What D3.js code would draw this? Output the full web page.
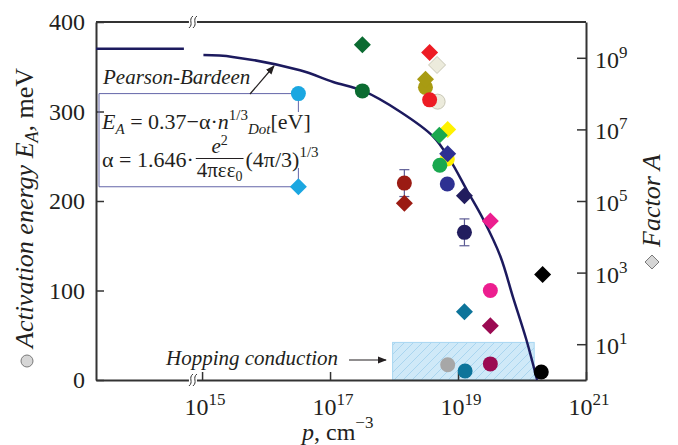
<!DOCTYPE html>
<html>
<head>
<meta charset="utf-8">
<script src="https://cdn.jsdelivr.net/npm/d3@7"></script>
<style>
  html, body { margin: 0; padding: 0; background: #fff; }
  svg { display: block; }
  svg text { font-family: "Liberation Serif", "Times New Roman", serif; }
</style>
</head>
<body>
<svg id="chart" width="678" height="445"></svg>
<script>
// ---- Samples: hole concentration p (cm^-3), activation energy E_A (meV), factor A ----
const sampleNames  = ["s1","s2","s3","s4","s5","s6","s7","s8","s9","s10","s11","s12","s13","s14","s15"];
const samplePCircle = [3.2e16, 3.2e17, 3.1e18, 3.6e18, 4.8e18, 6.8e18, 5.2e18, 6.8e18, 1.45e18, 1.26e19, 3.2e19, 1.29e19, 3.2e19, 2.0e20, 6.9e18];
const sampleE       = [320, 323, 327, 313, 311, 247, 240, 219, 220, 165, 100, 10, 18, 9, 17];
const sampleEErr    = [0, 0, 0, 0, 0, 0, 0, 0, 15, 15, 0, 0, 0, 0, 0];
const samplePDiamond = [3.2e16, 3.2e17, 3.1e18, 3.6e18, 4.7e18, 6.9e18, 5.1e18, 6.9e18, 1.45e18, 1.26e19, 3.2e19, 1.26e19, 3.2e19, 2.1e20, null];
const sampleA       = [2.5e5, 2.3e9, 2.5e8, 1.4e9, 6.3e8, 1.0e7, 6.9e6, 2.1e6, 8.7e4, 1.4e5, 2.75e4, 81, 33, 890, null];
const sampleColor   = ["#1ba7e1","#0b6b31","#a89b12","#ed1c24","#ecebdc","#fff200","#1aa84f","#2e3192","#9b1b13","#221d5e","#ec1e8f","#0d749a","#9b0a52","#000000","#a7a7a7"];
// draw order of circles (later ones on top)
const circleOrder = [0,1,2,4,3,5,6,7,8,9,10,11,12,13,14];

// ---- Pearson-Bardeen curve ----
const flatP = [2.2e13, 5.2e14];
const flatE = [370, 370];
const curveP = [1.05e15, 3.0e15, 3.4e16, 1.12e17, 3.3e17, 1.23e18, 4.1e18, 7.5e18, 1.38e19, 2.5e19, 4.6e19, 7.2e19, 1.17e20, 1.72e20];
const curveE = [363, 361, 346, 333, 323, 300, 272, 246, 212, 179, 138, 93, 45, 0];

// ---- Hopping conduction region ----
const hopP = [9.5e17, 1.55e20];
const hopE = 42;

// ---- Axis ticks ----
const xTicks = [1e15, 1e17, 1e19, 1e21];
const xTickExp = ["15", "17", "19", "21"];
const yTicks = [0, 100, 200, 300, 400];
const aTicks = [1e1, 1e3, 1e5, 1e7, 1e9];
const aTickExp = ["1", "3", "5", "7", "9"];
const breakP = 7.2e14;

const svg = d3.select("#chart");
const ink = "#231f20";
const axisInk = "#333";
const serif = "Liberation Serif, Times New Roman, serif";

const x  = d3.scaleLog().domain([2.2e13, 1e21]).range([96, 586]);
const y  = d3.scaleLinear().domain([0, 400]).range([380, 22]);
const yA = d3.scaleLog().domain([1, 1e10]).range([380, 22]);

// defs: hatch and arrowhead
const defs = svg.append("defs");
const pat = defs.append("pattern").attr("id", "hatch")
  .attr("patternUnits", "userSpaceOnUse").attr("width", 9).attr("height", 9);
pat.append("rect").attr("width", 9).attr("height", 9).attr("fill", "#cfe9f8");
pat.append("path").attr("d", "M0,9 L9,0 M-1,1 L1,-1 M8,10 L10,8")
  .attr("stroke", "#a9d5ef").attr("stroke-width", 1);
defs.append("marker").attr("id", "arrow").attr("viewBox", "0 0 10 10")
  .attr("refX", 9).attr("refY", 5).attr("markerWidth", 9).attr("markerHeight", 9)
  .attr("markerUnits", "userSpaceOnUse").attr("orient", "auto")
  .append("path").attr("d", "M0,1 L10,5 L0,9 Z").attr("fill", ink);

// hopping region
svg.append("rect")
  .attr("x", x(hopP[0])).attr("y", y(hopE))
  .attr("width", x(hopP[1]) - x(hopP[0])).attr("height", y(0) - y(hopE))
  .attr("fill", "url(#hatch)").attr("stroke", "#a6d6f1").attr("stroke-width", 1);

// axes
const gL = svg.append("g").attr("transform", "translate(96,0)")
  .call(d3.axisLeft(y).tickValues(yTicks).tickSizeInner(-8).tickSizeOuter(0).tickPadding(11));
const gB = svg.append("g").attr("transform", "translate(0,380)")
  .call(d3.axisBottom(x).tickValues(xTicks).tickSizeInner(-8).tickSizeOuter(0).tickFormat(""));
const gR = svg.append("g").attr("transform", "translate(586,0)")
  .call(d3.axisRight(yA).tickValues(aTicks).tickSizeInner(-9).tickSizeOuter(0).tickFormat(""));
[gL, gB, gR].forEach(g => {
  g.attr("font-family", serif);
  g.select(".domain").attr("stroke", axisInk).attr("stroke-width", 2);
  g.selectAll(".tick line").attr("stroke", axisInk).attr("stroke-width", 1.5);
});
gL.selectAll(".tick text").attr("font-size", 24).attr("fill", ink);
svg.append("line").attr("x1", 96).attr("x2", 586).attr("y1", 22).attr("y2", 22)
  .attr("stroke", axisInk).attr("stroke-width", 2);

// bottom tick labels with exponents
xTicks.forEach((v, i) => {
  const t = svg.append("text").attr("x", x(v) + 3).attr("y", 415)
    .attr("text-anchor", "middle").attr("font-size", 24).attr("fill", ink);
  t.append("tspan").text("10");
  t.append("tspan").attr("dy", -10).attr("font-size", 17).text(xTickExp[i]);
});
// right tick labels with exponents
aTicks.forEach((v, i) => {
  const t = svg.append("text").attr("x", 595).attr("y", yA(v) + 10)
    .attr("font-size", 24).attr("fill", ink);
  t.append("tspan").text("10");
  t.append("tspan").attr("dy", -10).attr("font-size", 17).text(aTickExp[i]);
});

// axis break marks
[22, 380].forEach(cy => {
  const cx = x(breakP);
  svg.append("rect").attr("x", cx - 4).attr("y", cy - 2).attr("width", 8).attr("height", 4).attr("fill", "#fff");
  [-2, 2].forEach(dx => {
    svg.append("path")
      .attr("d", `M${cx + dx - 2},${cy + 6} C${cx + dx + 3},${cy + 2} ${cx + dx - 3},${cy - 2} ${cx + dx + 2},${cy - 6}`)
      .attr("fill", "none").attr("stroke", axisInk).attr("stroke-width", 1);
  });
});

// Pearson-Bardeen curve
const line = d3.line().x(d => x(d[0])).y(d => y(d[1]));
svg.append("path").datum(flatP.map((p, i) => [p, flatE[i]])).attr("d", line)
  .attr("fill", "none").attr("stroke", "#1c1a5e").attr("stroke-width", 2.5);
svg.append("path").datum(curveP.map((p, i) => [p, curveE[i]]))
  .attr("d", line.curve(d3.curveCatmullRom))
  .attr("fill", "none").attr("stroke", "#1c1a5e").attr("stroke-width", 2.5);

// formula frame anchored on the first sample's markers
const bx0 = 99, bxR = x(samplePCircle[0]), byT = y(sampleE[0]), byB = yA(sampleA[0]);
svg.append("path")
  .attr("d", `M${bxR},${byT} H${bx0} V${byB} H${bxR} M${bxR},${byT} V112 M${bxR},168 V${byB}`)
  .attr("fill", "none").attr("stroke", "#6466a8").attr("stroke-width", 1);

// error bars
sampleE.forEach((e, i) => {
  if (!sampleEErr[i]) return;
  const cx = x(samplePCircle[i]);
  const g = svg.append("g").attr("stroke", "#5c5b94").attr("stroke-width", 1.2);
  g.append("line").attr("x1", cx).attr("x2", cx).attr("y1", y(e - sampleEErr[i])).attr("y2", y(e + sampleEErr[i]));
  [e - sampleEErr[i], e + sampleEErr[i]].forEach(v =>
    g.append("line").attr("x1", cx - 5).attr("x2", cx + 5).attr("y1", y(v)).attr("y2", y(v)));
});

// circles: activation energy (left axis)
svg.append("g").selectAll("circle").data(circleOrder).join("circle")
  .attr("cx", i => x(samplePCircle[i])).attr("cy", i => y(sampleE[i])).attr("r", 7.5)
  .attr("fill", i => sampleColor[i])
  .attr("stroke", i => i === 4 ? "#c9c8b6" : "none").attr("stroke-width", 1);

// diamonds: factor A (right axis)
const diamond = "M0,-8.5 L8.5,0 L0,8.5 L-8.5,0 Z";
svg.append("g").selectAll("path").data(sampleA.map((a, i) => i).filter(i => sampleA[i] != null)).join("path")
  .attr("d", diamond)
  .attr("transform", i => `translate(${x(samplePDiamond[i])},${yA(sampleA[i])})`)
  .attr("fill", i => sampleColor[i])
  .attr("stroke", i => i === 4 ? "#c9c8b6" : "none").attr("stroke-width", 1);

// annotations
svg.append("text").attr("x", 103).attr("y", 84).attr("font-size", 21).attr("font-style", "italic")
  .attr("fill", ink).text("Pearson-Bardeen");
svg.append("line").attr("x1", 250).attr("y1", 94).attr("x2", 274).attr("y2", 66)
  .attr("stroke", ink).attr("stroke-width", 1.2).attr("marker-end", "url(#arrow)");

svg.append("text").attr("x", 166).attr("y", 365).attr("font-size", 21).attr("font-style", "italic")
  .attr("fill", ink).text("Hopping conduction");
svg.append("line").attr("x1", 349).attr("y1", 360).attr("x2", 386).attr("y2", 360)
  .attr("stroke", ink).attr("stroke-width", 1.2).attr("marker-end", "url(#arrow)");

// formula, line 1
const f1 = svg.append("text").attr("x", 102).attr("y", 129).attr("font-size", 22).attr("fill", ink);
f1.append("tspan").attr("font-style", "italic").text("E");
f1.append("tspan").attr("font-style", "italic").attr("font-size", 15).attr("dy", 5).text("A");
f1.append("tspan").attr("dy", -5).text(" = 0.37\u2212\u03b1\u00b7");
f1.append("tspan").attr("font-style", "italic").text("n");
f1.append("tspan").attr("font-size", 15).attr("dy", -9).text("1/3");
f1.append("tspan").attr("font-size", 15).attr("font-style", "italic").attr("dy", 14).text("Dot");
f1.append("tspan").attr("dy", -5).text("[eV]");

// formula, line 2
const f2 = svg.append("text").attr("x", 102).attr("y", 167).attr("font-size", 22).attr("fill", ink)
  .text("\u03b1 = 1.646\u00b7");
const fx = 102 + f2.node().getComputedTextLength() + 3;
const den = svg.append("text").attr("y", 177).attr("font-size", 21).attr("fill", ink);
den.append("tspan").text("4\u03c0\u03b5\u03b5");
den.append("tspan").attr("font-size", 14).attr("dy", 4).text("0");
const dw = den.node().getComputedTextLength();
den.attr("x", fx);
const fc = fx + dw / 2;
const num = svg.append("text").attr("x", fc).attr("y", 153).attr("text-anchor", "middle")
  .attr("font-size", 21).attr("fill", ink);
num.append("tspan").attr("font-style", "italic").text("e");
num.append("tspan").attr("font-size", 14).attr("dy", -8).text("2");
svg.append("line").attr("x1", fx - 1).attr("x2", fx + dw + 1).attr("y1", 158.5).attr("y2", 158.5)
  .attr("stroke", ink).attr("stroke-width", 1);
const f3 = svg.append("text").attr("x", fx + dw + 3).attr("y", 167).attr("font-size", 22).attr("fill", ink);
f3.append("tspan").text("(4\u03c0/3)");
f3.append("tspan").attr("font-size", 15).attr("dy", -10).text("1/3");

// axis titles
const lt = svg.append("text").attr("transform", "translate(33,348) rotate(-90)")
  .attr("font-size", 26).attr("font-style", "italic").attr("fill", ink);
lt.append("tspan").text("Activation energy ");
lt.append("tspan").text("E");
lt.append("tspan").attr("font-size", 18).attr("dy", 5).text("A");
lt.append("tspan").attr("dy", -5).text(", ");
lt.append("tspan").attr("font-style", "normal").text("meV");
svg.append("circle").attr("cx", 27).attr("cy", 361).attr("r", 6)
  .attr("fill", "#d6d6d6").attr("stroke", "#7a7a7a").attr("stroke-width", 1);

svg.append("text").attr("transform", "translate(660,247) rotate(-90)")
  .attr("font-size", 26).attr("font-style", "italic").attr("fill", ink).text("Factor A");
svg.append("path").attr("d", "M0,-7 L7,0 L0,7 L-7,0 Z").attr("transform", "translate(652,262)")
  .attr("fill", "#d6d6d6").attr("stroke", "#7a7a7a").attr("stroke-width", 1);

const bt = svg.append("text").attr("x", 302).attr("y", 440).attr("font-size", 24).attr("fill", ink);
bt.append("tspan").attr("font-style", "italic").text("p");
bt.append("tspan").text(", cm");
bt.append("tspan").attr("font-size", 17).attr("dy", -12).text("\u22123");
</script>
</body>
</html>
